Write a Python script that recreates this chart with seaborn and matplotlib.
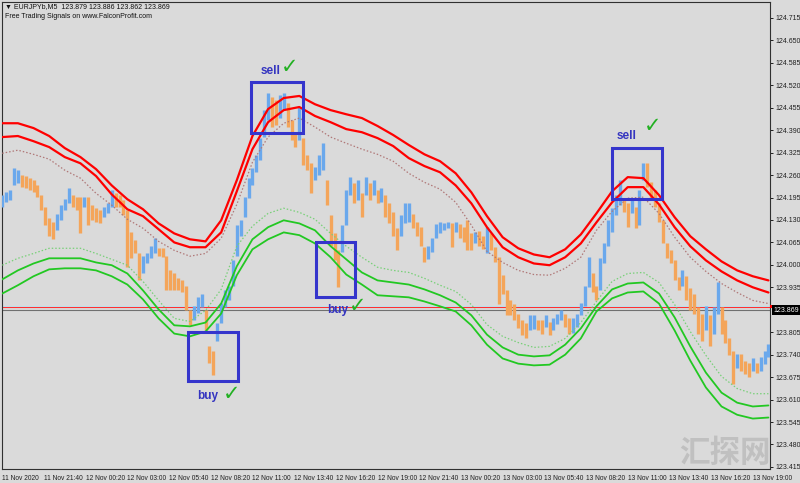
import numpy as np
import pandas as pd
import matplotlib
matplotlib.use("Agg")
import matplotlib.pyplot as plt
import matplotlib.transforms as mtransforms
from matplotlib import font_manager
import seaborn as sns

# ---------------- data ----------------
BAR_STEP_MIN = 15          # one sample every 15 minutes, start 11 Nov 19:00
BAND_STEP_MIN = 60         # band samples every hour

bar_high = [124.201,124.210,124.216,124.280,124.274,124.259,124.256,124.251,124.245,124.230,
            124.201,124.167,124.135,124.123,124.146,124.172,124.190,124.222,124.201,124.196,
            124.196,124.196,124.196,124.172,124.164,124.158,124.167,124.178,124.216,124.207,
            124.201,124.187,124.158,124.094,124.071,124.033,124.027,124.033,124.056,124.077,
            124.048,124.048,124.027,123.984,123.975,123.961,123.955,123.940,123.868,123.882,
            123.906,123.917,123.868,123.766,123.752,123.833,123.891,123.926,123.940,124.013,
            124.114,124.129,124.196,124.251,124.280,124.317,124.367,124.448,124.497,124.486,
            124.477,124.491,124.497,124.468,124.419,124.381,124.457,124.367,124.317,124.294,
            124.283,124.317,124.352,124.245,124.143,124.091,124.042,124.114,124.216,124.254,
            124.236,124.245,124.207,124.254,124.236,124.245,124.216,124.222,124.201,124.178,
            124.152,124.106,124.143,124.178,124.178,124.146,124.123,124.111,124.051,124.054,
            124.077,124.117,124.123,124.120,124.123,124.120,124.123,124.117,124.109,124.129,
            124.091,124.094,124.097,124.085,124.109,124.091,124.051,124.022,123.972,123.926,
            123.897,123.888,123.859,123.839,123.833,123.854,123.854,123.839,123.839,123.856,
            123.836,123.845,123.859,123.868,123.859,123.845,123.845,123.859,123.891,123.940,
            124.022,123.975,123.940,124.019,124.062,124.129,124.164,124.201,124.245,124.193,
            124.178,124.187,124.167,124.216,124.294,124.294,124.239,124.216,124.178,124.129,
            124.062,124.042,124.013,123.964,123.984,123.969,123.932,123.917,123.877,123.859,
            123.882,123.856,123.877,123.949,123.877,123.839,123.787,123.752,123.743,123.743,
            123.723,123.717,123.729,123.717,123.732,123.752,123.772]

bar_low = [124.167,124.181,124.187,124.230,124.236,124.225,124.222,124.216,124.210,124.196,
           124.158,124.114,124.085,124.074,124.100,124.129,124.158,124.178,124.167,124.158,
           124.091,124.167,124.114,124.129,124.123,124.120,124.138,124.149,124.167,124.167,
           124.167,124.143,123.993,124.019,124.033,123.955,123.975,124.004,124.019,124.033,
           124.025,124.022,123.926,123.926,123.926,123.926,123.920,123.868,123.825,123.839,
           123.862,123.877,123.810,123.717,123.680,123.781,123.833,123.877,123.897,123.940,
           124.027,124.085,124.138,124.193,124.230,124.268,124.303,124.370,124.419,124.399,
           124.404,124.425,124.448,124.399,124.361,124.341,124.361,124.288,124.274,124.207,
           124.245,124.259,124.274,124.172,124.056,124.013,123.935,124.036,124.114,124.201,
           124.178,124.187,124.138,124.201,124.187,124.201,124.178,124.181,124.138,124.120,
           124.085,124.042,124.085,124.120,124.123,124.106,124.083,124.054,124.007,124.016,
           124.036,124.077,124.091,124.100,124.106,124.051,124.094,124.077,124.065,124.042,
           124.042,124.062,124.056,124.045,124.033,124.042,124.007,123.888,123.917,123.854,
           123.854,123.839,123.816,123.798,123.787,123.810,123.813,123.810,123.801,123.819,
           123.798,123.810,123.830,123.839,123.819,123.801,123.804,123.819,123.854,123.882,
           123.935,123.920,123.897,123.926,124.004,124.056,124.094,124.143,124.172,124.152,
           124.109,124.149,124.106,124.114,124.245,124.225,124.187,124.167,124.123,124.062,
           124.019,124.004,123.955,123.926,123.940,123.897,123.868,123.859,123.801,123.781,
           123.810,123.766,123.801,123.859,123.801,123.775,123.738,123.656,123.702,123.694,
           123.685,123.676,123.694,123.688,123.694,123.714,123.732]

red_outer = [124.410,124.410,124.396,124.373,124.338,124.312,124.277,124.230,124.190,124.161,
             124.120,124.091,124.074,124.068,124.129,124.245,124.373,124.451,124.483,124.489,
             124.465,124.448,124.436,124.425,124.402,124.376,124.347,124.320,124.300,124.265,
             124.210,124.141,124.080,124.048,124.030,124.022,124.045,124.088,124.149,124.213,
             124.254,124.251,124.202,124.138,124.083,124.045,124.010,123.984,123.967,123.955]
red_inner = [124.370,124.373,124.358,124.341,124.312,124.294,124.257,124.204,124.161,124.141,
             124.103,124.065,124.051,124.051,124.094,124.213,124.335,124.413,124.448,124.457,
             124.431,124.413,124.393,124.384,124.367,124.344,124.309,124.286,124.268,124.230,
             124.178,124.109,124.051,124.022,124.004,123.999,124.022,124.062,124.123,124.181,
             124.225,124.225,124.175,124.109,124.054,124.013,123.981,123.955,123.935,123.920]
red_dotted = [124.323,124.332,124.320,124.306,124.274,124.251,124.207,124.173,124.132,124.106,
              124.068,124.042,124.025,124.033,124.077,124.175,124.297,124.370,124.410,124.425,
              124.399,124.370,124.352,124.335,124.320,124.300,124.265,124.239,124.219,124.181,
              124.115,124.039,124.007,123.984,123.972,123.970,123.990,124.022,124.100,124.155,
              124.193,124.196,124.149,124.080,124.022,123.981,123.946,123.920,123.897,123.888]
green_dotted = [123.999,124.019,124.033,124.048,124.048,124.048,124.033,124.016,123.999,123.952,
                123.897,123.845,123.836,123.868,123.929,124.054,124.112,124.149,124.164,124.152,
                124.132,124.091,124.054,124.022,123.993,123.984,123.978,123.961,123.941,123.923,
                123.885,123.827,123.793,123.775,123.761,123.764,123.787,123.833,123.894,123.952,
                123.975,123.978,123.949,123.885,123.807,123.738,123.677,123.642,123.627,123.627]
green_inner = [123.958,123.984,124.004,124.019,124.019,124.019,124.007,123.999,123.975,123.926,
               123.871,123.825,123.822,123.833,123.888,123.996,124.074,124.109,124.129,124.120,
               124.100,124.054,124.016,123.978,123.955,123.949,123.943,123.929,123.912,123.891,
               123.854,123.798,123.761,123.740,123.735,123.738,123.769,123.816,123.880,123.929,
               123.946,123.949,123.917,123.848,123.764,123.688,123.630,123.601,123.590,123.593]
green_outer = [123.917,123.941,123.967,123.987,123.990,123.990,123.984,123.967,123.943,123.900,
               123.845,123.801,123.793,123.807,123.859,123.970,124.045,124.074,124.094,124.086,
               124.062,124.022,123.972,123.943,123.912,123.909,123.906,123.894,123.880,123.865,
               123.825,123.769,123.729,123.714,123.709,123.711,123.740,123.787,123.865,123.903,
               123.920,123.923,123.888,123.810,123.723,123.645,123.590,123.566,123.555,123.558]

bid_price = 123.869
ask_price = 123.879

x_tick_labels = ["11 Nov 2020", "11 Nov 21:40", "12 Nov 00:20", "12 Nov 03:00", "12 Nov 05:40",
                 "12 Nov 08:20", "12 Nov 11:00", "12 Nov 13:40", "12 Nov 16:20", "12 Nov 19:00",
                 "12 Nov 21:40", "13 Nov 00:20", "13 Nov 03:00", "13 Nov 05:40", "13 Nov 08:20",
                 "13 Nov 11:00", "13 Nov 13:40", "13 Nov 16:20", "13 Nov 19:00"]
x_tick_step_min = 160
y_ticks = [124.715,124.650,124.585,124.520,124.455,124.390,124.325,124.260,124.195,124.130,
           124.065,124.000,123.935,123.805,123.740,123.675,123.610,123.545,123.480,123.415]

# signal boxes: (label, t0, t1, p_low, p_high) in minutes from start / price
signals = [("buy", 714, 905, 123.665, 123.807),
           ("sell", 954, 1154, 124.381, 124.529),
           ("buy", 1204, 1353, 123.906, 124.065),
           ("sell", 2339, 2531, 124.190, 124.338)]
signal_text = [("buy", 789, 123.621, 881, 123.627),
               ("sell", 1031, 124.561, 1104, 124.573),
               ("buy", 1288, 123.868, 1365, 123.880),
               ("sell", 2397, 124.373, 2497, 124.402)]

header1 = "\u25bc EURJPYb,M5  123.879 123.886 123.862 123.869"
header2 = "Free Trading Signals on www.FalconProfit.com"
watermark = "汇探网"

# ---------------- figure ----------------
BG = "#dadada"
sns.set_style("white")
names = {f.name for f in font_manager.fontManager.ttflist}
narrow = "Liberation Sans Narrow" if "Liberation Sans Narrow" in names else "Liberation Sans"
plt.rcParams["font.family"] = ["Liberation Sans", "DejaVu Sans"]
tick_font = 5.0 if narrow != "Liberation Sans" else 4.8

W, H = 800, 483
fig = plt.figure(figsize=(W / 100, H / 100), dpi=100, facecolor=BG)
ax = fig.add_axes([2 / W, (H - 469) / H, (770 - 2) / W, (469 - 2) / H])
ax.set_facecolor(BG)

bars = pd.DataFrame({"high": bar_high, "low": bar_low})
bars["t"] = np.arange(len(bars)) * BAR_STEP_MIN
mid = (bars["high"] + bars["low"]) / 2
up = mid.diff().fillna(0) >= 0
colors = np.where(up, "#6aa8ec", "#f4a55a")
ax.vlines(bars["t"], bars["low"], bars["high"], colors=colors, linewidth=2.4, zorder=3)

bands = pd.DataFrame({"red_outer": red_outer, "red_inner": red_inner, "red_dotted": red_dotted,
                      "green_dotted": green_dotted, "green_inner": green_inner,
                      "green_outer": green_outer})
bands["t"] = np.arange(len(bands)) * BAND_STEP_MIN

styles = {"red_outer": dict(color="#ff0000", lw=1.6, ls="-"),
          "red_inner": dict(color="#ff0000", lw=1.6, ls="-"),
          "red_dotted": dict(color="#b07878", lw=0.9, ls=(0, (1.2, 1.6))),
          "green_dotted": dict(color="#78d078", lw=0.9, ls=(0, (1.2, 1.6))),
          "green_inner": dict(color="#22c822", lw=1.3, ls="-"),
          "green_outer": dict(color="#22c822", lw=1.3, ls="-")}
for col, st in styles.items():
    sns.lineplot(data=bands, x="t", y=col, ax=ax, color=st["color"], linewidth=st["lw"],
                 linestyle=st["ls"], zorder=4)

ax.axhline(ask_price, color="#ff3030", lw=0.8, zorder=2)
ax.axhline(ask_price + 0.0012, color="#b8e0f0", lw=0.6, zorder=2)
ax.axhline(bid_price, color="#707070", lw=0.8, zorder=2)

# signal boxes & labels
for lab, t0, t1, p0, p1 in signals:
    ax.add_patch(plt.Rectangle((t0, p0), t1 - t0, p1 - p0, fill=False,
                               edgecolor="#3535cc", lw=2.2, zorder=6))
for lab, tx, py, cx, cy in signal_text:
    ax.text(tx, py, lab, color="#3535c0", fontsize=8.5, fontweight="bold",
            ha="center", va="center", zorder=7)
    ax.text(cx, cy, "\u2713", color="#22b022", fontsize=15, ha="center", va="center",
            family=["DejaVu Sans"], zorder=7)

# axes
ax.set_xlim(-1, 2946)
ax.set_ylim(123.409, 124.761)
ax.set_xlabel("")
ax.set_ylabel("")
ax.yaxis.tick_right()
ax.set_yticks(y_ticks)
ax.set_yticklabels([f"{v:.3f}" for v in y_ticks])
xt = np.arange(len(x_tick_labels)) * x_tick_step_min
ax.set_xticks(xt)
ax.set_xticklabels(x_tick_labels, ha="left", family=[narrow, "DejaVu Sans"], fontsize=tick_font)
ax.tick_params(axis="y", labelsize=5)
ax.tick_params(axis="both", which="both", colors="#202020", length=2.5, width=0.7,
               pad=1.5, direction="out")
ax.tick_params(axis="x", pad=2, labelsize=tick_font)
ax.tick_params(axis="y", right=True, left=False, labelright=True, labelleft=False)
for s in ax.spines.values():
    s.set_visible(True)
    s.set_color("#303030")
    s.set_linewidth(0.8)

trans = mtransforms.blended_transform_factory(ax.transAxes, ax.transData)
# red ask marker on the price scale (its text is hidden behind the bid label in the reference)
ax.add_patch(plt.Rectangle((1.0, ask_price - 0.004), 0.04, 0.010, transform=trans,
                           facecolor="#ff0000", edgecolor="none", clip_on=False, zorder=8))
ax.text(1.004, bid_price, f"{bid_price:.3f}", transform=trans, fontsize=5, color="white",
        va="center", ha="left", zorder=9, clip_on=False,
        bbox=dict(facecolor="#000000", edgecolor="none", pad=1.0))

fig.text(5 / W, 1 - 7 / H, header1, fontsize=5, color="#101010", va="center", ha="left",
         family=["Liberation Sans", "DejaVu Sans"])
fig.text(5 / W, 1 - 16 / H, header2, fontsize=5, color="#101010", va="center", ha="left")

fig.text(725 / W, 1 - 453 / H, watermark, fontsize=22, fontweight="bold", color="#c0c0c0",
         ha="center", va="center", family=["Noto Sans CJK SC", "DejaVu Sans"], zorder=10)

fig.savefig("out.png", dpi=100, facecolor=BG)
